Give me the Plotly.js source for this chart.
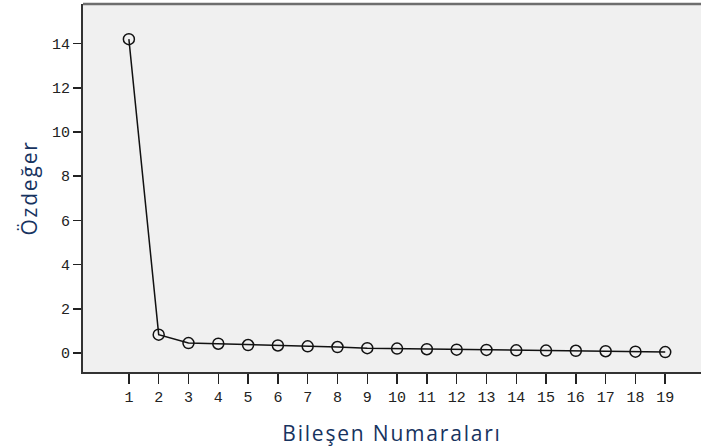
<!DOCTYPE html>
<html>
<head>
<meta charset="utf-8">
<script src="https://cdn.plot.ly/plotly-3.0.1.min.js"></script>
<style>
html,body{margin:0;padding:0;background:#fff;overflow:hidden;}
#chart{width:701px;height:447px;}
.xtitle,.ytitle{letter-spacing:1.8px;}
</style>
</head>
<body>
<div id="chart"></div>
<script>
const components = [1,2,3,4,5,6,7,8,9,10,11,12,13,14,15,16,17,18,19];
const eigenvalues = [14.2,0.83,0.45,0.42,0.36,0.34,0.30,0.27,0.22,0.20,0.17,0.15,0.14,0.12,0.11,0.10,0.08,0.06,0.04];
const yTicks = [0,2,4,6,8,10,12,14];
const xTitle = "Bileşen Numaraları";
const yTitle = "Özdeğer";

const tickFont = {family: "Liberation Mono, monospace", size: 15, color: "#222"};
const titleFont = {family: "Open Sans, Noto Sans, sans-serif", size: 21, color: "#17335f"};

Plotly.newPlot("chart", [{
  x: components,
  y: eigenvalues,
  type: "scatter",
  mode: "lines+markers",
  line: {color: "#111", width: 1.5},
  marker: {symbol: "circle-open", size: 11, color: "#111", line: {width: 1.5, color: "#111"}},
  hoverinfo: "skip"
}], {
  width: 701, height: 447,
  margin: {l: 83, r: 0, t: 4, b: 75},
  paper_bgcolor: "#ffffff",
  plot_bgcolor: "#f0f0f0",
  showlegend: false,
  shapes: [{
    type: "line", xref: "paper", yref: "paper",
    x0: 0, x1: 1.02, y0: 1, y1: 1,
    line: {color: "#6e6e6e", width: 2.5}
  }],
  xaxis: {
    range: [-0.54, 20.2],
    tickvals: components,
    ticktext: components.map(String),
    ticks: "outside", ticklen: 10, tickwidth: 1.5, tickcolor: "#222",
    showline: true, linecolor: "#333", linewidth: 2,
    showgrid: false, zeroline: false,
    tickfont: tickFont,
    automargin: false,
    title: {text: xTitle, font: titleFont, standoff: 20}
  },
  yaxis: {
    range: [-0.86, 15.79],
    tickvals: yTicks,
    ticktext: yTicks.map(String),
    ticks: "outside", ticklen: 8, tickwidth: 1.5, tickcolor: "#222",
    showline: true, linecolor: "#333", linewidth: 2,
    showgrid: false, zeroline: false,
    tickfont: tickFont,
    automargin: false,
    title: {text: yTitle, font: titleFont, standoff: 9}
  }
}, {staticPlot: true});
</script>
</body>
</html>
